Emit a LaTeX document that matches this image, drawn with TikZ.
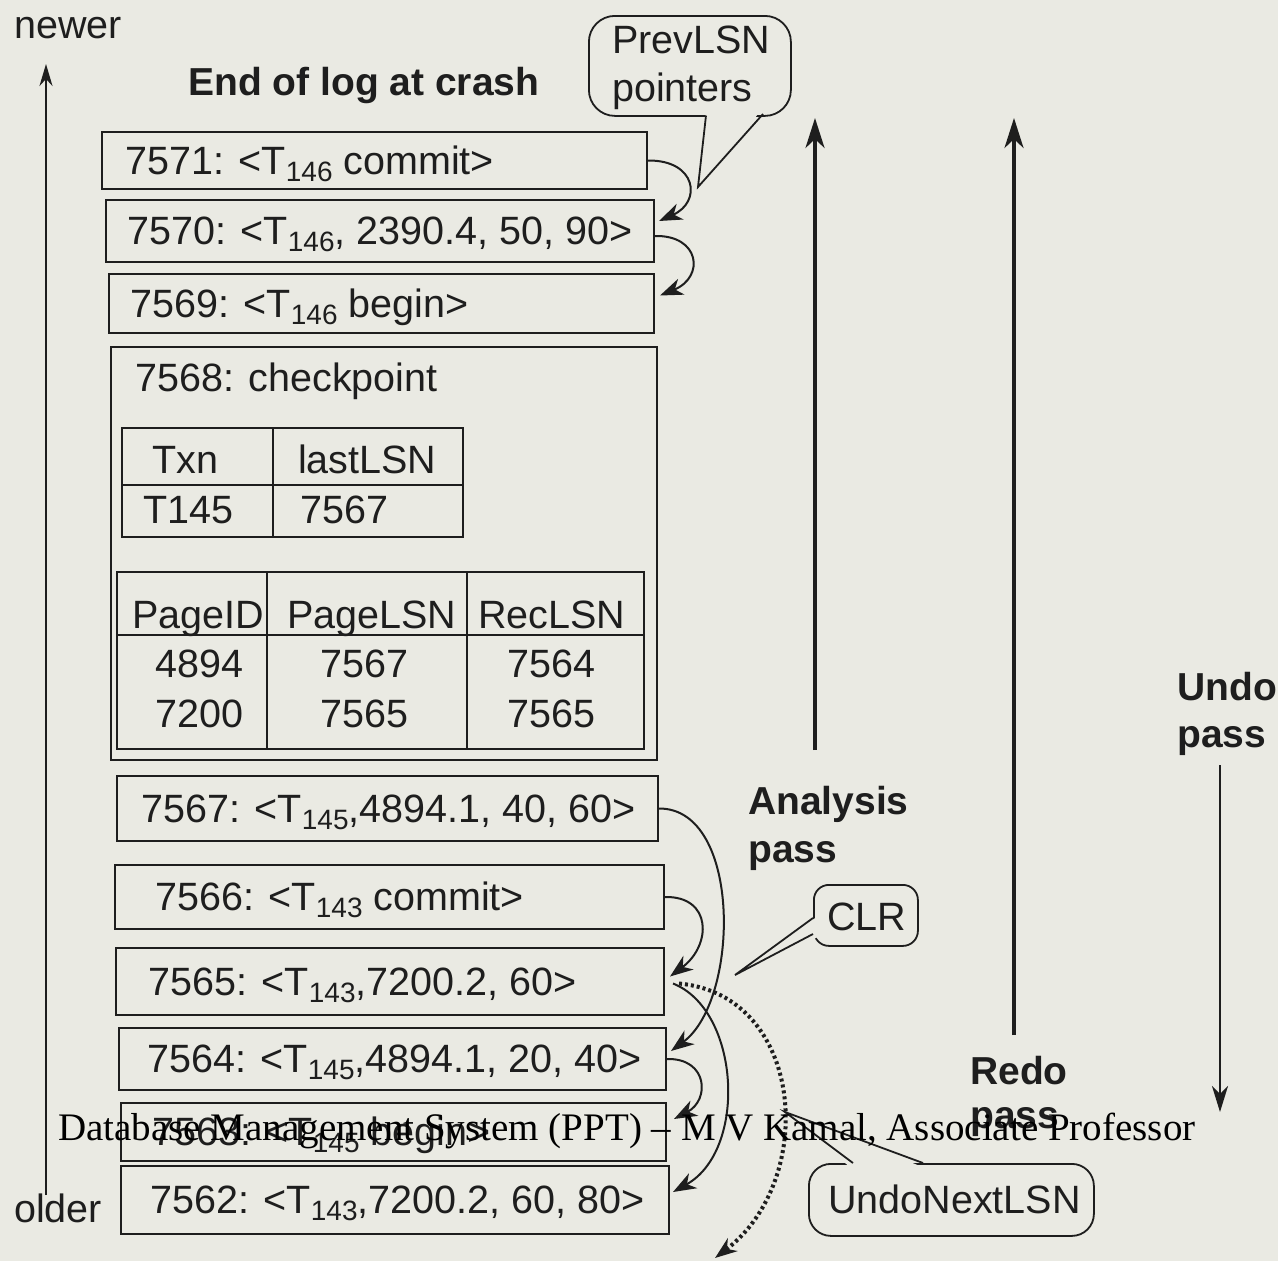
\documentclass[tikz,border=0pt]{standalone}
\usepackage{fontspec}
\setmainfont{Liberation Sans}
\newfontfamily\timesf{Liberation Serif}
\usetikzlibrary{arrows.meta,calc}
\definecolor{bg}{HTML}{EAEAE3}
\definecolor{ink}{HTML}{1E1E1E}
\newcommand\sbs[1]{\raisebox{-7pt}{\fontsize{28}{28}\selectfont #1}}
\begin{document}
\begin{tikzpicture}[x=1pt,y=-1pt,
  every node/.style={font=\fontsize{39.5}{39.5}\selectfont, text=ink},
  logbox/.style={draw=ink, line width=2pt, rectangle, anchor=north west, inner sep=0pt},
  logtxt/.style={anchor=base west, inner sep=0pt},
  boldlbl/.style={anchor=base west, inner sep=0pt, font=\fontsize{39}{39}\selectfont\bfseries},
  bubble/.style={draw=ink, line width=1.8pt, rounded corners=#1, anchor=north west, inner sep=0pt},
  tblline/.style={draw=ink, line width=1.8pt},
  parr/.style={draw=ink, line width=2pt, -{Stealth[length=23pt,width=17pt,inset=7pt]}},
  passarr/.style={draw=ink, line width=3.4pt, -{Stealth[length=30pt,width=19pt,inset=9pt]}},
  undoarr/.style={draw=ink, line width=2.6pt, -{Stealth[length=26pt,width=16pt,inset=8pt]}},
  timearr/.style={draw=ink, line width=2pt, -{Stealth[length=22pt,width=13pt,inset=7pt]}},
  dotarr/.style={draw=ink, line width=4pt, dash pattern=on 3pt off 3pt, -{Stealth[length=22pt,width=16pt,inset=7pt]}}
]
\fill[bg] (0,0) rectangle (1278,1261);
\useasboundingbox (0,0) rectangle (1278,1261);

% time axis
\node[logtxt] (newer) at (14,38) {newer};
\node[logtxt] (older) at (14,1222) {older};
\coordinate (tb) at (46,1195);
\coordinate (tt) at (46,64);
\draw[timearr] (tb) -- (tt);

\node[boldlbl] (title) at (188,95) {End of log at crash};

% log records
\node[logbox, minimum width=545, minimum height=57] (b7571) at (101,131) {};
\node[logtxt] (t7571) at (125,174) {7571: <T\sbs{146} commit>};
\node[logbox, minimum width=548, minimum height=62] (b7570) at (105,199) {};
\node[logtxt] (t7570) at (127,244) {7570: <T\sbs{146}, 2390.4, 50, 90>};
\node[logbox, minimum width=545, minimum height=59] (b7569) at (108,273) {};
\node[logtxt] (t7569) at (130,317) {7569: <T\sbs{146} begin>};

% checkpoint
\node[logbox, minimum width=546, minimum height=413] (b7568) at (110,346) {};
\node[logtxt] (t7568) at (135,391) {7568: checkpoint};
\node[logbox, line width=1.8pt, minimum width=341, minimum height=109] (tab1) at (121,427) {};
\draw[tblline] ($(tab1.north west)+(152,0)$) -- ($(tab1.south west)+(152,0)$);
\draw[tblline] ($(tab1.north west)+(0,58)$) -- ($(tab1.north east)+(0,58)$);
\node[logtxt] (h11) at (152,473) {Txn};
\node[logtxt] (h12) at (298,473) {lastLSN};
\node[logtxt] (c11) at (143,523) {T145};
\node[logtxt] (c12) at (300,523) {7567};
\node[logbox, line width=1.8pt, minimum width=527, minimum height=177] (tab2) at (116,571) {};
\draw[tblline] ($(tab2.north west)+(151,0)$) -- ($(tab2.south west)+(151,0)$);
\draw[tblline] ($(tab2.north west)+(351,0)$) -- ($(tab2.south west)+(351,0)$);
\draw[tblline] ($(tab2.north west)+(0,64)$) -- ($(tab2.north east)+(0,64)$);
\node[logtxt] (h21) at (132,628) {PageID};
\node[logtxt] (h22) at (287,628) {PageLSN};
\node[logtxt] (h23) at (478,628) {RecLSN};
\node[logtxt] (c21) at (155,677) {4894};
\node[logtxt] (c22) at (320,677) {7567};
\node[logtxt] (c23) at (507,677) {7564};
\node[logtxt] (c31) at (155,727) {7200};
\node[logtxt] (c32) at (320,727) {7565};
\node[logtxt] (c33) at (507,727) {7565};

\node[logbox, minimum width=541, minimum height=65] (b7567) at (116,775) {};
\node[logtxt] (t7567) at (141,822) {7567: <T\sbs{145},4894.1, 40, 60>};
\node[logbox, minimum width=549, minimum height=64] (b7566) at (114,864) {};
\node[logtxt] (t7566) at (155,910) {7566: <T\sbs{143} commit>};
\node[logbox, minimum width=548, minimum height=67] (b7565) at (115,947) {};
\node[logtxt] (t7565) at (148,995) {7565: <T\sbs{143},7200.2, 60>};
\node[logbox, minimum width=547, minimum height=62] (b7564) at (118,1027) {};
\node[logtxt] (t7564) at (147,1072) {7564: <T\sbs{145},4894.1, 20, 40>};
\node[logbox, minimum width=545, minimum height=58] (b7563) at (120,1102) {};
\node[logtxt] (t7563) at (152,1145) {7563: <T\sbs{145} begin>};
\node[logbox, minimum width=548, minimum height=68] (b7562) at (120,1165) {};
\node[logtxt] (t7562) at (150,1213) {7562: <T\sbs{143},7200.2, 60, 80>};

% PrevLSN pointers
\draw[parr] (b7571.east) .. controls (697,160) and (702,202) .. ($(b7570.east)+(4,-10)$);
\draw[parr] ($(b7570.east)+(0,5)$) .. controls (700,235) and (705,277) .. ($(b7569.east)+(5,-8)$);
\draw[parr] (b7567.east) .. controls (742,808) and (740,1000) .. ($(b7564.east)+(4,-8)$);
\draw[parr] (b7566.east) .. controls (712,896) and (712,945) .. ($(b7565.east)+(5,-5)$);
\draw[parr] ($(b7565.east)+(8,2)$) .. controls (740,1010) and (748,1150) .. ($(b7562.east)+(3,-8)$);
\draw[parr] (b7564.east) .. controls (708,1058) and (710,1100) .. ($(b7563.east)+(7,-13)$);
\coordinate (dotend) at (715,1258);
\draw[dotarr] ($(b7565.east)+(14,2)$) .. controls (805,995) and (818,1180) .. (dotend);

% pass arrows
\coordinate (an1) at (815,750); \coordinate (an2) at (815,118);
\draw[passarr] (an1) -- (an2);
\node[boldlbl] (anl1) at (748,814) {Analysis};
\node[boldlbl] (anl2) at (748,862) {pass};
\coordinate (re1) at (1014,1035); \coordinate (re2) at (1014,118);
\draw[passarr] (re1) -- (re2);
\node[boldlbl] (rel1) at (970,1084) {Redo};
\node[boldlbl] (rel2) at (970,1128) {pass};
\coordinate (un1) at (1220,765); \coordinate (un2) at (1220,1112);
\draw[undoarr] (un1) -- (un2);
\node[boldlbl] (unl1) at (1177,700) {Undo};
\node[boldlbl] (unl2) at (1177,747) {pass};

% callouts
\node[bubble=26pt, minimum width=202, minimum height=100] (cb1) at (588,15) {};
\coordinate (tip1) at (698,187);
\fill[bg] (706,110) -- (tip1) -- (763,108) -- cycle;
\draw[ink, line width=1.8pt, line join=miter] (706,115.5) -- (tip1) -- (763,114);
\node[logtxt] (cb1a) at (612,53) {PrevLSN};
\node[logtxt] (cb1b) at (612,101) {pointers};

\node[bubble=15pt, minimum width=104, minimum height=61] (cb2) at (813,884) {};
\coordinate (tip2) at (735,975);
\fill[bg] (818,916) -- (tip2) -- (818,937) -- cycle;
\draw[ink, line width=1.8pt] (813,918) -- (tip2) -- (813,934);
\node[logtxt] (cb2a) at (827,930) {CLR};

\node[bubble=22pt, minimum width=285, minimum height=72] (cb3) at (808,1163) {};
\coordinate (tip3) at (785,1112);
\fill[bg] (851,1168) -- (tip3) -- (925,1168) -- cycle;
\draw[ink, line width=1.8pt] (853,1163) -- (tip3) -- (923,1163);
\node[logtxt] (cb3a) at (828,1213) {UndoNextLSN};

% footer overlay
\node[anchor=base west, inner sep=0pt, font=\timesf\fontsize{39}{39}\selectfont, text=black] (foot) at (58,1140) {Database Management System (PPT) – M V Kamal, Associate Professor};
\end{tikzpicture}
\end{document}
